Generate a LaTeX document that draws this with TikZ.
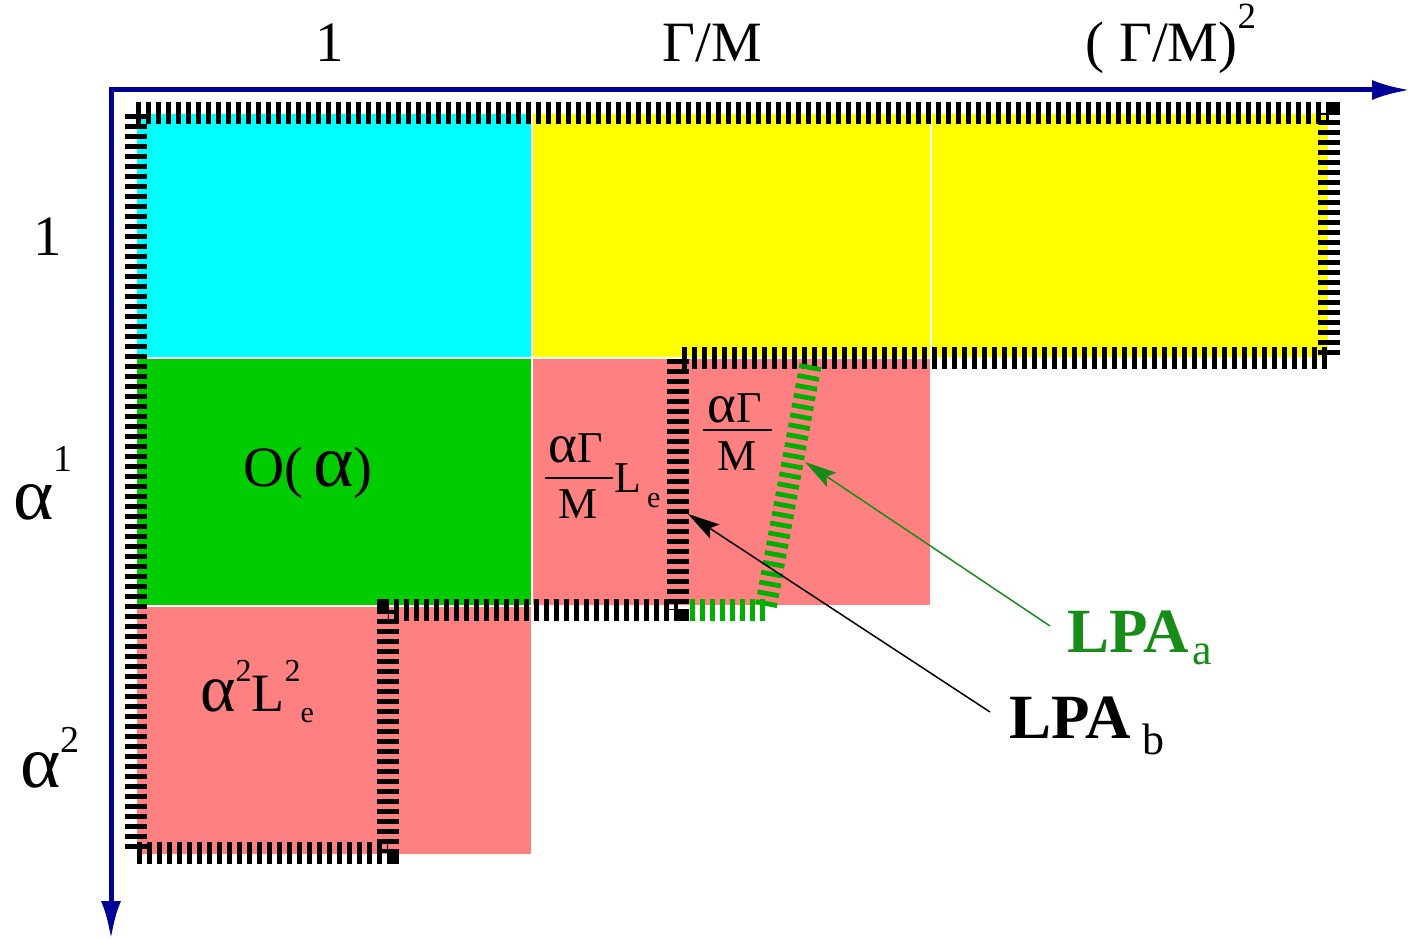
\documentclass[tikz,border=0pt]{standalone}
\usepackage{fontspec}
\setmainfont{Liberation Serif}
\usetikzlibrary{arrows.meta}
\definecolor{axisblue}{RGB}{0,0,150}
\definecolor{cellcyan}{RGB}{0,255,255}
\definecolor{cellyellow}{RGB}{255,255,0}
\definecolor{cellgreen}{RGB}{0,204,0}
\definecolor{cellpink}{RGB}{255,128,128}
\definecolor{hatchgreen}{RGB}{0,176,0}
\definecolor{lpagreen}{RGB}{24,140,24}
% raised / lowered indices with their own size
\newcommand{\upidx}[3]{\raisebox{#1}{\fontsize{#2}{#2}\selectfont #3}}
\newcommand{\lowidx}[3]{\raisebox{#1}{\fontsize{#2}{#2}\selectfont #3}}
% a wider alpha, closer to the symbol-font shape
\newcommand{\wideal}{\scalebox{1.35}[1.3]{α}}
\begin{document}
\begin{tikzpicture}[x=1pt,y=-1pt,
  cell/.style={draw=white, line width=2pt},
  hatch/.style={line width=22pt, dash pattern=on 4.8pt off 5.2pt},
  axis/.style={draw=axisblue, line width=5pt,
    {Latex[length=38pt,width=20pt]}-{Latex[length=38pt,width=20pt]}},
  lab/.style={inner sep=0pt, anchor=base, font=\fontsize{57}{60}\selectfont},
  fraclab/.style={inner sep=0pt, anchor=base, font=\fontsize{44}{48}\selectfont},
  fracbar/.style={line width=1.6pt},
  lpa/.style={inner sep=0pt, anchor=base west, font=\fontsize{63}{66}\selectfont\bfseries},
  pointer/.style={line width=1.5pt, -{Stealth[length=32pt,width=17pt,inset=6pt]}}
]
\useasboundingbox (0,0) rectangle (1410,939);

% coloured cells of the grid
\filldraw[cell, fill=cellcyan]   (136,113) rectangle (532,358);
\filldraw[cell, fill=cellyellow] (532,113) rectangle (931,358);
\filldraw[cell, fill=cellyellow] (931,113) rectangle (1329,358);
\filldraw[cell, fill=cellgreen]  (136,358) rectangle (532,606);
\filldraw[cell, fill=cellpink]   (532,358) rectangle (931,606);
\filldraw[cell, fill=cellpink]   (136,606) rectangle (532,855);

% hatched staircase boundary
\draw[hatch, black] (136,113) -- (1329,113) -- (1329,358) -- (678,358)
  -- (678,610) -- (388,610) -- (388,853) -- (136,853) -- cycle;

% green hatched boundary
\draw[hatch, hatchgreen] (690,610) -- (768,610);
\draw[hatch, hatchgreen] (766,606) -- (811,362);

% axes
\draw[axis] (111,939) -- (111,90) -- (1410,90);

% column labels
\node[lab] (colone) at (330,62) {1};
\node[lab] (coltwo) at (712,62) {Γ/M};
\node[lab] (colthree) at (1171,62) {( Γ/M)\upidx{33pt}{37}{2}};

% row labels
\node[lab] (rowone) at (48,255) {1};
\node[lab] (rowtwo) at (43,519) {\wideal\upidx{48pt}{38}{1}};
\node[lab] (rowthree) at (50,787) {\wideal\upidx{35pt}{38}{2}};

% cell labels
\node[lab] (oalpha) at (308,486) {O(\hspace{10pt}\wideal)};
\node[lab, font=\fontsize{54}{58}\selectfont] (alphasq) at (257,711)
  {\scalebox{1.25}{α}\upidx{30pt}{32}{2}L\upidx{30pt}{32}{2}\lowidx{-11pt}{30}{e}};

\node[fraclab] (numa) at (576,462) {\scalebox{1.25}{α}Γ};
\node[fraclab] (dena) at (578,518) {M};
\draw[fracbar] (545,478) -- (613,478);
\node[fraclab, anchor=base west] (lea) at (614,492)
  {L\hspace{6pt}\lowidx{-15pt}{30}{e}};

\node[fraclab] (numb) at (735,422) {\scalebox{1.25}{α}Γ};
\node[fraclab] (denb) at (737,470) {M};
\draw[fracbar] (703,430) -- (772,430);

% LPA labels and pointers
\node[lpa, text=lpagreen] (lpaa) at (1067,652)
  {LPA\hspace{4pt}\lowidx{-12pt}{44}{\mdseries a}};
\node[lpa] (lpab) at (1009,738)
  {LPA\hspace{12pt}\lowidx{-16pt}{44}{\mdseries b}};

\coordinate (gtail) at (1050,626);
\coordinate (gtip) at (805,462);
\coordinate (btail) at (990,712);
\coordinate (btip) at (688,514);
\draw[pointer, draw=lpagreen, fill=lpagreen] (gtail) -- (gtip);
\draw[pointer, black] (btail) -- (btip);
\end{tikzpicture}
\end{document}
